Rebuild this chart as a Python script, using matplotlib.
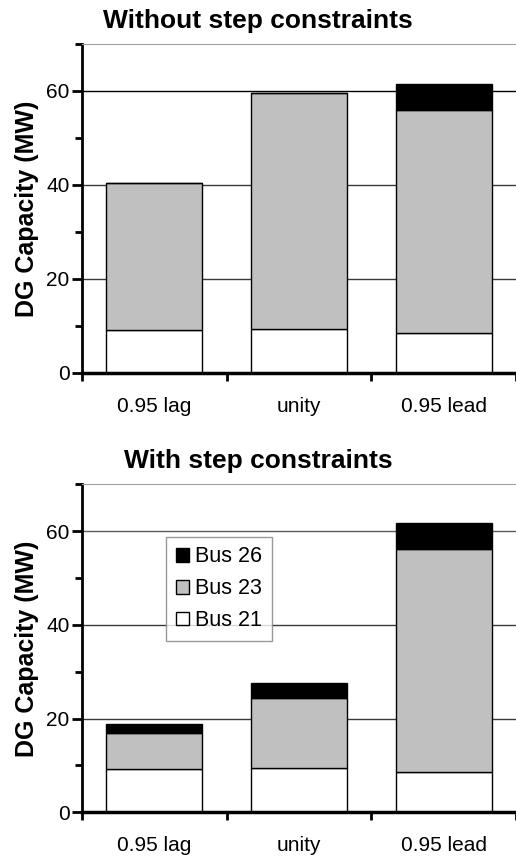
import matplotlib
matplotlib.use("Agg")
import matplotlib.pyplot as plt
import numpy as np
from matplotlib.ticker import MultipleLocator

plt.rcParams['font.family'] = ['Liberation Sans', 'DejaVu Sans']

categories = ['0.95 lag', 'unity', '0.95 lead']
series_names = ['Bus 21', 'Bus 23', 'Bus 26']

# without step constraints
free_bus21 = [9.1, 9.4, 8.6]
free_bus23 = [31.4, 50.1, 47.3]
free_bus26 = [0.0, 0.0, 5.5]

# with step constraints
step_bus21 = [9.2, 9.4, 8.6]
step_bus23 = [7.7, 15.0, 47.5]
step_bus26 = [2.0, 3.2, 5.6]

colors = ['white', '#c0c0c0', 'black']

fig = plt.figure(figsize=(5.16, 8.56), dpi=100)
ax1 = fig.add_axes([0.159, 0.5643, 0.841, 0.3843])
ax2 = fig.add_axes([0.159, 0.0510, 0.841, 0.3832])


def draw(ax, data, title, title_y, grid60, legend=False):
    x = np.arange(len(categories))
    bottom = np.zeros(len(categories))
    handles = []
    for vals, col, name in zip(data, colors, series_names):
        vals = np.array(vals)
        h = ax.bar(x, vals, 0.665, bottom=bottom, color=col,
                   edgecolor='black', linewidth=1.0, label=name, zorder=2)
        handles.append(h)
        bottom += vals
    ax.set_xlim(-0.5, 2.5)
    ax.set_ylim(0, 70)
    ax.yaxis.set_minor_locator(MultipleLocator(10))
    ax.set_yticks([0, 20, 40, 60])
    ax.set_xticks(x)
    ax.set_xticklabels(categories, fontsize=15)
    ax.set_xticks([-0.5, 0.5, 1.5, 2.5], minor=True)
    ax.tick_params(axis='x', which='major', length=0, pad=17)
    ax.tick_params(axis='x', which='minor', length=6, width=2, direction='out')
    ax.tick_params(axis='y', which='major', length=7, width=2, labelsize=15, pad=2)
    ax.tick_params(axis='y', which='minor', length=5, width=2)
    for y in [20, 40]:
        ax.axhline(y, color='#3a3a3a', linewidth=1.0, zorder=1)
    ax.axhline(60, color=grid60, linewidth=1.0, zorder=1)
    for s in ax.spines.values():
        s.set_zorder(4)
    ax.spines['left'].set_linewidth(2)
    ax.spines['bottom'].set_linewidth(2.5)
    ax.spines['top'].set_color('#a0a0a0')
    ax.spines['right'].set_visible(False)
    ax.set_ylabel('DG Capacity (MW)', fontsize=18, fontweight='bold', labelpad=5)
    fig.text(0.50, title_y, title, ha='center', va='center',
             fontsize=19, fontweight='bold')
    if legend:
        leg = ax.legend(handles[::-1], series_names[::-1], loc='upper left',
                        bbox_to_anchor=(0.194, 0.84), fontsize=15.5,
                        frameon=True, fancybox=False, edgecolor='#808080',
                        handlelength=0.6, handleheight=0.6, handletextpad=0.3,
                        borderpad=0.45, labelspacing=0.5, borderaxespad=0)
        leg.get_frame().set_linewidth(1.0)


draw(ax1, [free_bus21, free_bus23, free_bus26], 'Without step constraints',
     1 - 21 / 856, 'black')
draw(ax2, [step_bus21, step_bus23, step_bus26], 'With step constraints',
     1 - 461 / 856, '#5a5a5a', legend=True)

fig.savefig('out.png', dpi=100)
